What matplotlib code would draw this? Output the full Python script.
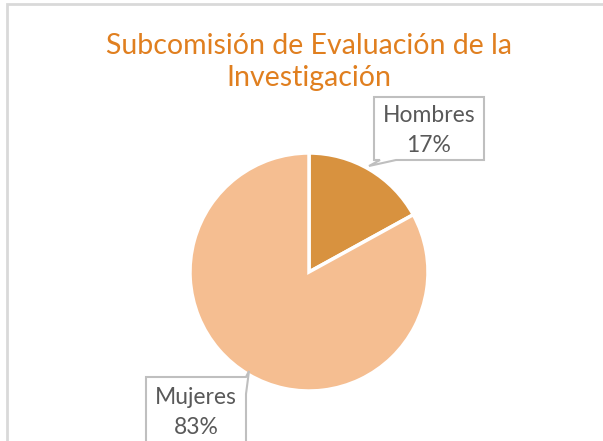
import matplotlib
matplotlib.use("Agg")
import matplotlib.pyplot as plt
from matplotlib.patches import Polygon, Rectangle

# data
labels = ["Hombres", "Mujeres"]
values = [17, 83]
colors = ["#D8923F", "#F5BE91"]
title = "Subcomisión de Evaluación de la\nInvestigación"

W, H = 603, 441
fig = plt.figure(figsize=(W / 100, H / 100), dpi=100)
ax = fig.add_axes([0, 0, 1, 1])
ax.set_xlim(0, W)
ax.set_ylim(0, H)
ax.axis("off")

def Y(y):
    # image row -> data y
    return H - y

# chart border
ax.add_patch(Rectangle((6.5, Y(700)), 700, Y(3.5) - Y(700), fill=False,
                       edgecolor="#D9D9D9", linewidth=2))

ax.text(309, Y(62), title, ha="center", va="center", fontsize=20.5,
        color="#E07F1F", family="Lato", linespacing=1.32)

wedges, _ = ax.pie(values, colors=colors, startangle=90, counterclock=False,
                   center=(309, Y(272)), radius=119,
                   wedgeprops=dict(edgecolor="white", linewidth=2.5))
ax.set_aspect("equal")
ax.set_xlim(0, W)
ax.set_ylim(0, H)

# callout boxes
box_style = dict(facecolor="white", edgecolor="#BFBFBF", linewidth=1.5)
hombres_box = [(374, 97), (484, 97), (484, 160), (396, 160), (369, 166),
               (380, 160), (374, 160)]
mujeres_box = [(146, 377), (246, 377), (249, 371), (246, 394), (246, 460),
               (146, 460)]
for pts in (hombres_box, mujeres_box):
    ax.add_patch(Polygon([(x, Y(y)) for x, y in pts], closed=True, **box_style))

txt = dict(ha="center", va="center", fontsize=16.5, color="#595959", family="Lato")
ax.text(429, Y(116), labels[0], **txt)
ax.text(429, Y(145), f"{values[0]}%", **txt)
ax.text(196, Y(397), labels[1], **txt)
ax.text(196, Y(427), f"{values[1]}%", **txt)

fig.savefig("out.png", dpi=100)
